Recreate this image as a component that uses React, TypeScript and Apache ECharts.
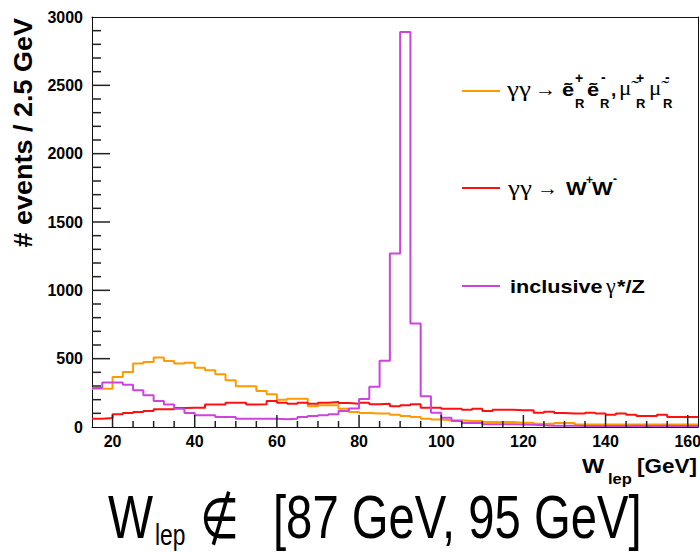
import React, { useEffect, useRef } from "react";
import * as echarts from "echarts";

// ---- data ----
const binLow = [
  15, 17.5, 20, 22.5, 25, 27.5, 30, 32.5, 35, 37.5,
  40, 42.5, 45, 47.5, 50, 52.5, 55, 57.5, 60, 62.5,
  65, 67.5, 70, 72.5, 75, 77.5, 80, 82.5, 85, 87.5,
  90, 92.5, 95, 97.5, 100, 102.5, 105, 107.5, 110, 112.5,
  115, 117.5, 120, 122.5, 125, 127.5, 130, 132.5, 135, 137.5,
  140, 142.5, 145, 147.5, 150, 152.5, 155, 157.5, 160,
];
const xMin = 15;
const xMax = 162.5;

const sleptonCounts = [
  280, 280, 366, 402, 464, 476, 508, 483, 464, 471,
  434, 415, 386, 342, 298, 298, 264, 239, 200, 207,
  207, 151, 159, 159, 134, 110, 103, 98, 98, 90,
  80, 73, 61, 54, 49, 49, 44, 44, 37, 37,
  37, 32, 32, 24, 24, 30, 30, 18, 18, 18,
  18, 18, 18, 18, 18, 18, 18, 18, 18,
];
const wwCounts = [
  61, 66, 93, 103, 110, 117, 129, 129, 139, 141,
  141, 164, 164, 178, 178, 165, 166, 190, 178, 171,
  178, 171, 178, 183, 176, 171, 178, 166, 171, 151,
  159, 166, 141, 141, 134, 134, 127, 134, 117, 127,
  127, 122, 122, 105, 112, 103, 98, 98, 105, 98,
  90, 98, 90, 81, 81, 90, 73, 73, 73,
];
const zCounts = [
  285, 325, 325, 310, 268, 232, 190, 164, 134, 103,
  86, 86, 73, 73, 61, 61, 61, 61, 56, 61,
  73, 80, 86, 93, 117, 135, 205, 295, 485, 1269,
  2890, 757, 225, 105, 68, 44, 29, 29, 20, 20,
  20, 18, 16, 12, 10, 10, 10, 8, 8, 8,
  8, 8, 10, 8, 8, 10, 8, 8, 8,
];

const xMajorTicks = [20, 40, 60, 80, 100, 120, 140, 160];
const xMinorTicks = [25, 30, 35, 45, 50, 55, 65, 70, 75, 85, 90, 95, 105, 110, 115, 125, 130, 135, 145, 150, 155];
const yMajorTicks = [500, 1000, 1500, 2000, 2500];
const yMinorTicks = [
  100, 200, 300, 400, 600, 700, 800, 900, 1100, 1200, 1300, 1400,
  1600, 1700, 1800, 1900, 2100, 2200, 2300, 2400, 2600, 2700, 2800, 2900,
];
const yMin = 0;
const yMax = 3000;
const yStep = 500;

const colors = { slepton: "#ff9a00", ww: "#ff1010", z: "#cc44dd" };

const SANS = "'Liberation Sans', Arial, Helvetica, sans-serif";
const SERIF = "'Liberation Serif', 'Times New Roman', serif";
const DEJA = "'DejaVu Sans', sans-serif";

const W = 700;
const H = 553;
const GL = 92;
const GR = 2;
const GT = 17;
const GB = 126;

// tick lengths in pixels, turned into data units through the plot size
const TICK = { yMajor: 18, yMinor: 9, xMajor: 12, xMinor: 6 };
const xPerPx = (xMax - xMin) / (W - GL - GR);
const yPerPx = (yMax - yMin) / (H - GT - GB);

function steps(vals: number[]) {
  const pts: number[][] = binLow.map((x, i) => [x, vals[i]]);
  pts.push([xMax, vals[vals.length - 1]]);
  return pts;
}

type TOpt = { bold?: boolean; family?: string; sx?: number; align?: string; rot?: number };
function txt(text: string, x: number, baseline: number, size: number, o: TOpt = {}) {
  return {
    type: "text",
    x,
    y: baseline - 0.35 * size,
    scaleX: o.sx ?? 1,
    rotation: o.rot ?? 0,
    silent: true,
    z: 100,
    style: {
      text,
      font: `${o.bold ? "bold " : ""}${size}px ${o.family ?? SANS}`,
      fill: "#000",
      align: o.align ?? "left",
      verticalAlign: "middle",
    },
  };
}
function seg(x1: number, x2: number, y: number, color: string) {
  return { type: "line", silent: true, z: 100, shape: { x1, y1: y, x2, y2: y }, style: { stroke: color, lineWidth: 2 } };
}

export default function App() {
  const ref = useRef<HTMLDivElement>(null);
  useEffect(() => {
    if (!ref.current) return;
    const chart = echarts.init(ref.current, null, { renderer: "svg" });
    const axisColor = "#111";
    const tickColor = "#222";
    const labelStyle = { fontFamily: SANS, fontWeight: "bold", fontSize: 16, color: "#000" };

    const graphic: any[] = [
      // y axis title
      { ...txt("# events / 2.5 GeV", 23, 0, 25, { bold: true, align: "right", rot: Math.PI / 2 }), x: 23, y: 18, scaleX: 1.08 },
      // x axis title
      txt("W", 582, 473, 21, { bold: true, sx: 1.12 }),
      txt("lep", 608, 484, 15, { bold: true, sx: 1.1 }),
      txt("[GeV]", 637, 473, 21, { bold: true, sx: 1.07 }),
      // legend entry 1
      seg(462, 500, 91, colors.slepton),
      txt("γγ", 507, 96, 20, { family: SERIF, sx: 1.35 }),
      txt("→", 535, 96, 20, { family: SERIF, sx: 1.05 }),
      txt("ẽ", 562, 96, 19, { bold: true, sx: 1.15 }),
      txt("+", 575, 83, 14, { bold: true }),
      txt("R", 575, 108, 13, { bold: true }),
      txt("ẽ", 587, 96, 19, { bold: true, sx: 1.15 }),
      txt("-", 601, 82, 14, { bold: true }),
      txt("R", 600, 108, 13, { bold: true }),
      txt(",", 611, 96, 19, { bold: true }),
      txt("μ̃", 619, 96, 20, { family: SERIF, sx: 1.15 }),
      txt("+", 636, 83, 14, { bold: true }),
      txt("R", 636, 108, 13, { bold: true }),
      txt("μ̃", 649, 96, 20, { family: SERIF, sx: 1.15 }),
      txt("-", 665, 82, 14, { bold: true }),
      txt("R", 663, 108, 13, { bold: true }),
      // legend entry 2
      seg(462, 500, 188, colors.ww),
      txt("γγ", 508, 195, 20, { family: SERIF, sx: 1.35 }),
      txt("→", 537, 195, 20, { family: SERIF, sx: 1.05 }),
      txt("W", 566, 195, 19, { bold: true, sx: 1.15 }),
      txt("+", 586, 184, 12, { bold: true }),
      txt("W", 592, 195, 19, { bold: true, sx: 1.15 }),
      txt("-", 613, 183, 12, { bold: true }),
      // legend entry 3
      seg(462, 500, 286, colors.z),
      txt("inclusive", 510, 293, 19, { bold: true, sx: 1.14 }),
      txt("γ", 606, 293, 20, { family: SERIF, sx: 1.1 }),
      txt("*/Z", 617, 293, 19, { bold: true, sx: 1.15 }),
      // big bottom text
      txt("W", 108, 538, 62, { sx: 0.77 }),
      txt("lep", 155, 545, 30, { sx: 0.76 }),
      txt("∉", 200, 538, 56, { family: DEJA, sx: 0.8 }),
      txt("[87 GeV, 95 GeV]", 273, 538, 62, { sx: 0.762 }),
    ];

    const frameAxis = {
      axisLine: { show: true, onZero: false, lineStyle: { color: axisColor, width: 1 } },
      axisTick: { show: false },
      axisLabel: { show: false },
      splitLine: { show: false },
    };

    // one small two-point line series per tick mark
    const tickLine = (data: number[][]) => ({
      type: "line",
      symbol: "none",
      silent: true,
      clip: false,
      data,
      lineStyle: { color: tickColor, width: 1.5 },
      itemStyle: { color: tickColor },
      z: 6,
    });
    const tickSeries: any[] = [
      ...yMajorTicks.map((v) => tickLine([[xMin, v], [xMin + TICK.yMajor * xPerPx, v]])),
      ...yMinorTicks.map((v) => tickLine([[xMin, v], [xMin + TICK.yMinor * xPerPx, v]])),
      ...xMajorTicks.map((v) => tickLine([[v, yMin], [v, yMin + TICK.xMajor * yPerPx]])),
      ...xMinorTicks.map((v) => tickLine([[v, yMin], [v, yMin + TICK.xMinor * yPerPx]])),
    ];

    chart.setOption({
      animation: false,
      backgroundColor: "#fff",
      grid: {
        left: GL,
        right: GR,
        top: GT,
        bottom: GB,
        show: false,
        containLabel: false,
        outerBoundsMode: "none",
      },
      xAxis: [
        {
          type: "value",
          min: xMin,
          max: xMax,
          position: "bottom",
          axisLine: { show: true, onZero: false, lineStyle: { color: axisColor, width: 1 } },
          axisTick: { show: false },
          axisLabel: { show: true, customValues: xMajorTicks, margin: 6, ...labelStyle },
          splitLine: { show: false },
        },
        { type: "value", min: xMin, max: xMax, position: "top", ...frameAxis },
      ],
      yAxis: [
        {
          type: "value",
          min: yMin,
          max: yMax,
          interval: yStep,
          position: "left",
          axisLine: { show: true, onZero: false, lineStyle: { color: axisColor, width: 1 } },
          axisTick: { show: false },
          minorTick: { show: false },
          axisLabel: { margin: 9, formatter: (v: number) => String(v), ...labelStyle },
          splitLine: { show: false },
          minorSplitLine: { show: false },
        },
        { type: "value", min: yMin, max: yMax, position: "right", ...frameAxis },
      ],
      series: [
        ...tickSeries,
        { name: "slepton", type: "line", step: "end", symbol: "none", data: steps(sleptonCounts), lineStyle: { color: colors.slepton, width: 2 }, itemStyle: { color: colors.slepton }, z: 2 },
        { name: "WW", type: "line", step: "end", symbol: "none", data: steps(wwCounts), lineStyle: { color: colors.ww, width: 2 }, itemStyle: { color: colors.ww }, z: 3 },
        { name: "Z", type: "line", step: "end", symbol: "none", data: steps(zCounts), lineStyle: { color: colors.z, width: 2 }, itemStyle: { color: colors.z }, z: 4 },
      ],
      graphic,
    });

    return () => chart.dispose();
  }, []);
  return <div ref={ref} style={{ position: "fixed", left: 0, top: 0, width: W, height: H, background: "#fff" }} />;
}
